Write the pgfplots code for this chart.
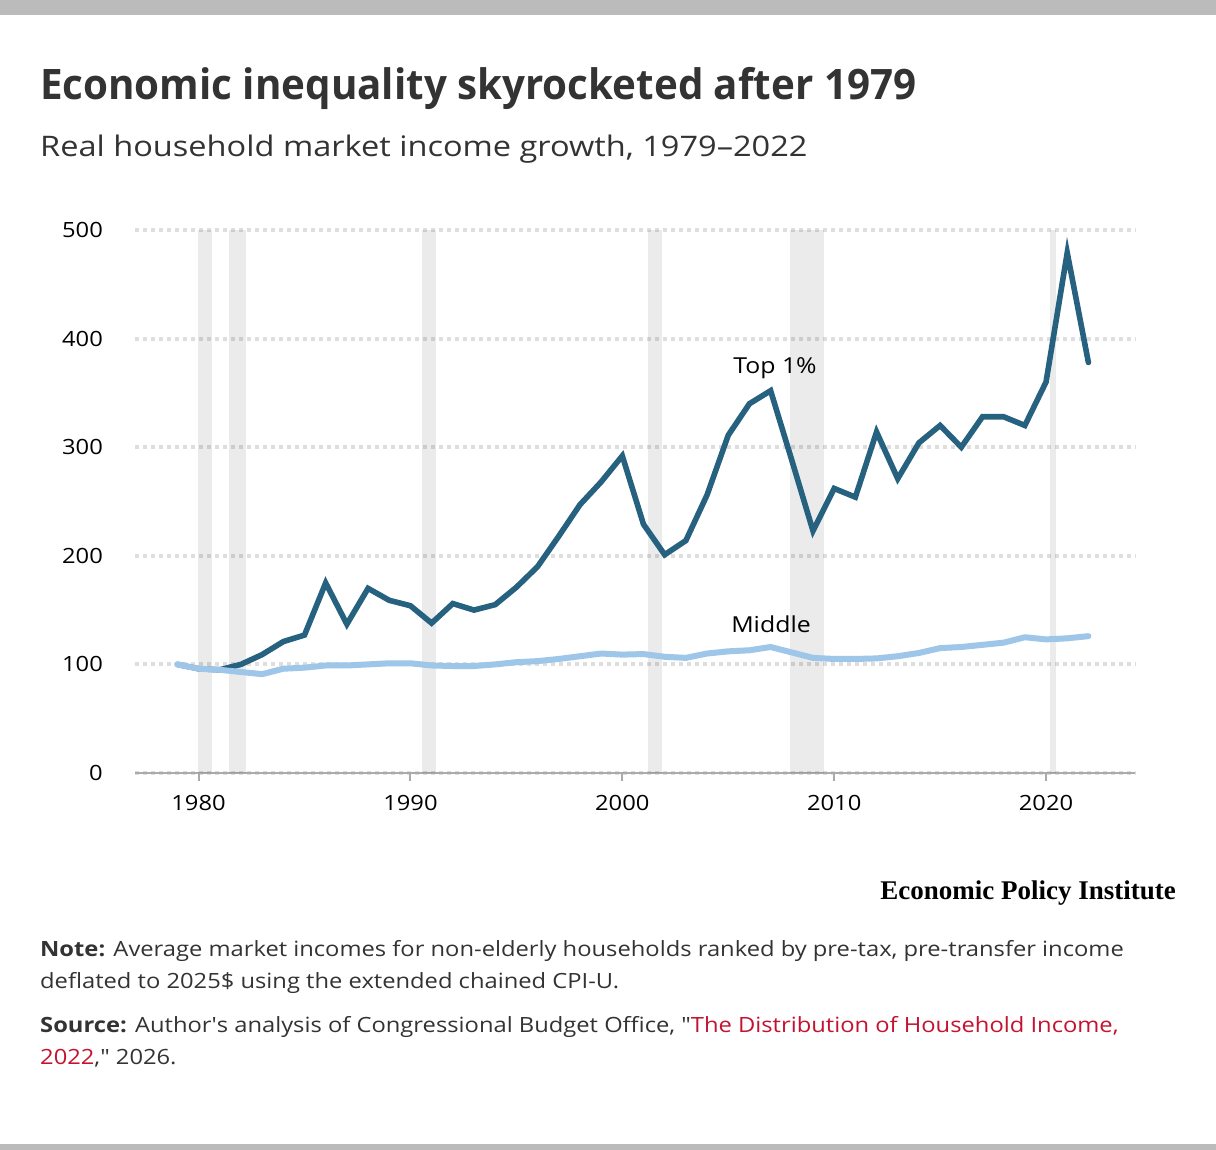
\documentclass[border=0pt]{standalone}
\usepackage{pgfplots}
\pgfplotsset{compat=1.18}
\usepackage{pgfplotstable}
\usepackage{fontspec}
\setmainfont{Open Sans}[FakeStretch=1.13]
\newfontfamily\titlefont{Open Sans}[FakeStretch=0.96]
\newfontfamily\subfont{Open Sans}[FakeStretch=1.15]
\newfontfamily\qfont{Open Sans}[FakeStretch=1.13]
\newfontfamily\epifont{Liberation Serif}
\definecolor{topblue}{RGB}{38,98,128}
\definecolor{midblue}{RGB}{157,198,233}
\definecolor{gridgray}{RGB}{222,222,222}
\definecolor{axisgray}{RGB}{170,170,170}
\definecolor{bandgray}{RGB}{187,187,187}
\definecolor{txt}{RGB}{51,51,51}
\definecolor{linkred}{RGB}{196,18,48}

\pgfplotstableread{
year top middle
1979 100 100
1980 96 96
1981 95 95
1982 100 93
1983 109 91
1984 121 96
1985 127 97
1986 175 99
1987 137 99
1988 170 100
1989 159 101
1990 154 101
1991 138 99
1992 156 98.5
1993 150 98.5
1994 155 100
1995 171 102
1996 190 103
1997 218 105
1998 247 107.5
1999 268 110
2000 292 109
2001 229 109.5
2002 201 107
2003 214 106
2004 256 110
2005 311 112
2006 340 113
2007 352 116
2008 288 111
2009 223 106
2010 262 105
2011 254 105
2012 314 105.5
2013 271 107.5
2014 304 110.5
2015 320 115
2016 300 116
2017 328 118
2018 328 120
2019 320 125
2020 360 123
2021 479 124
2022 378 126
}\datatable

\begin{document}
\begin{tikzpicture}[x=1pt,y=1pt]
\useasboundingbox (0,0) rectangle (1216,1150);
\fill[white] (0,0) rectangle (1216,1150);
\fill[bandgray] (0,1135) rectangle (1216,1150);
\fill[bandgray] (0,0) rectangle (1216,6);

\node[anchor=base west, inner sep=0pt, text=txt, font=\fontsize{42}{50}\selectfont\titlefont\bfseries] at (40,1050) {Economic inequality skyrocketed after 1979};
\node[anchor=base west, inner sep=0pt, text=txt, font=\fontsize{28.3}{34}\selectfont\subfont] at (40,993) {Real household market income growth, 1979–2022};

\begin{axis}[
  at={(135pt,377pt)}, anchor=south west,
  scale only axis, width=1000pt, height=543pt,
  xmin=1977, xmax=2024.2, ymin=0, ymax=500,
  axis x line*=bottom,
  axis y line*=left,
  x axis line style={draw=axisgray, line width=2pt},
  y axis line style={draw=none},
  xtick={1980,1990,2000,2010,2020},
  ytick={0,100,200,300,400,500},
  xticklabels={1980,1990,2000,2010,2020},
  tick align=outside,
  major tick length=8pt,
  xtick style={draw=axisgray, line width=2pt},
  ytick style={draw=none},
  ymajorgrids,
  grid style={draw=gridgray, line width=4pt, dash pattern=on 4pt off 4pt},
  tick label style={font=\fontsize{21}{25}\selectfont, text=black},
  /pgf/number format/assume math mode=true,
  yticklabel style={anchor=east, inner sep=0pt, xshift=-24pt},
  xticklabel style={anchor=north, inner sep=0pt, yshift=-14pt},
  clip=false,
]
\addplot[draw=none, fill=black, fill opacity=0.08] coordinates {(1979.95,500) (1980.62,500)} \closedcycle;
\addplot[draw=none, fill=black, fill opacity=0.08] coordinates {(1981.46,500) (1982.22,500)} \closedcycle;
\addplot[draw=none, fill=black, fill opacity=0.08] coordinates {(1990.53,500) (1991.2,500)} \closedcycle;
\addplot[draw=none, fill=black, fill opacity=0.08] coordinates {(2001.2,500) (2001.87,500)} \closedcycle;
\addplot[draw=none, fill=black, fill opacity=0.08] coordinates {(2007.92,500) (2009.53,500)} \closedcycle;
\addplot[draw=none, fill=black, fill opacity=0.08] coordinates {(2020.2,500) (2020.45,500)} \closedcycle;
\addplot[topblue, line width=5.6pt, line join=miter, line cap=round] table[x=year, y=top] {\datatable};
\addplot[midblue, line width=6pt, line join=round, line cap=round] table[x=year, y=middle] {\datatable};
\end{axis}

\node[anchor=center, inner sep=0pt, text=black, font=\fontsize{22}{28}\selectfont] at (775,782) {Top 1\%};
\node[anchor=center, inner sep=0pt, text=black, font=\fontsize{22}{28}\selectfont] at (771,526) {Middle};

\node[anchor=base east, inner sep=0pt, text=black, font=\fontsize{27}{30}\selectfont\epifont\bfseries] at (1176,250) {Economic Policy Institute};

\node[anchor=base west, inner sep=0pt, text=txt, font=\fontsize{21}{25}\selectfont] at (40,193) {\textbf{Note:} Average market incomes for non-elderly households ranked by pre-tax, pre-transfer income};
\node[anchor=base west, inner sep=0pt, text=txt, font=\fontsize{21}{25}\selectfont] at (40,161) {deflated to 2025\$ using the extended chained CPI-U.};
\node[anchor=base west, inner sep=0pt, text=txt, font=\fontsize{21}{25}\selectfont] at (40,117) {\textbf{Source:} Author{\qfont'}s analysis of Congressional Budget Office, {\qfont"}\textcolor{linkred}{The Distribution of Household Income,}};
\node[anchor=base west, inner sep=0pt, text=txt, font=\fontsize{21}{25}\selectfont] at (40,85) {\textcolor{linkred}{2022},{\qfont"} 2026.};
\end{tikzpicture}
\end{document}
